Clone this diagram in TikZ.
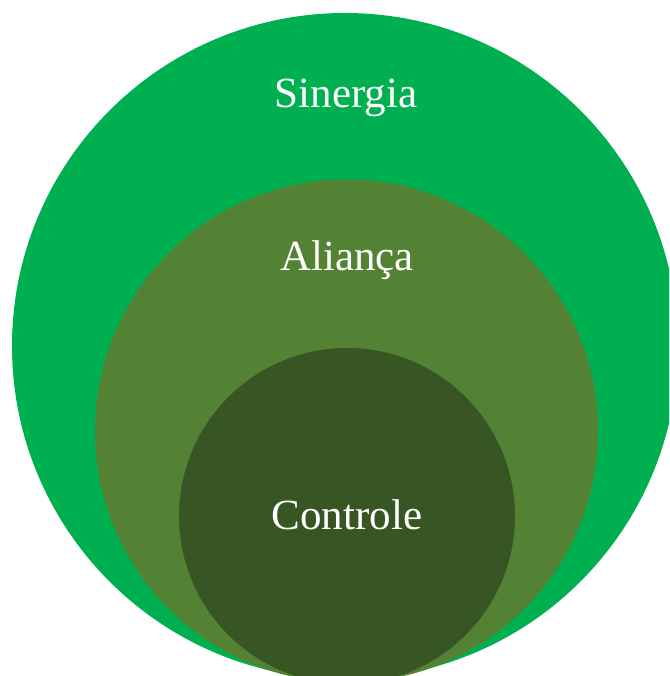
\documentclass[tikz,border=0pt]{standalone}
\usepackage{fontspec}
\setmainfont{Liberation Serif}
\definecolor{synergy}{HTML}{00B050}
\definecolor{alliance}{HTML}{548235}
\definecolor{control}{HTML}{375623}
\begin{document}
\begin{tikzpicture}[x=1pt,y=-1pt,
  ring/.style={circle,inner sep=0pt,minimum size=#1},
  lbl/.style={anchor=base,text=white,font=\fontsize{43}{50}\selectfont}]
\useasboundingbox (0,0) rectangle (669,676);
\clip (0,0) rectangle (669,676);
\node[ring=666pt,fill=synergy] (outer) at (345,346) {};
\node[ring=503pt,fill=alliance] (middle) at (346.5,431) {};
\node[ring=336pt,fill=control] (inner) at (347,516) {};
\node[lbl] (t1) at (346,108) {Sinergia};
\node[lbl] (t2) at (347,270) {Aliança};
\node[lbl] (t3) at (347,529) {Controle};
\end{tikzpicture}
\end{document}
